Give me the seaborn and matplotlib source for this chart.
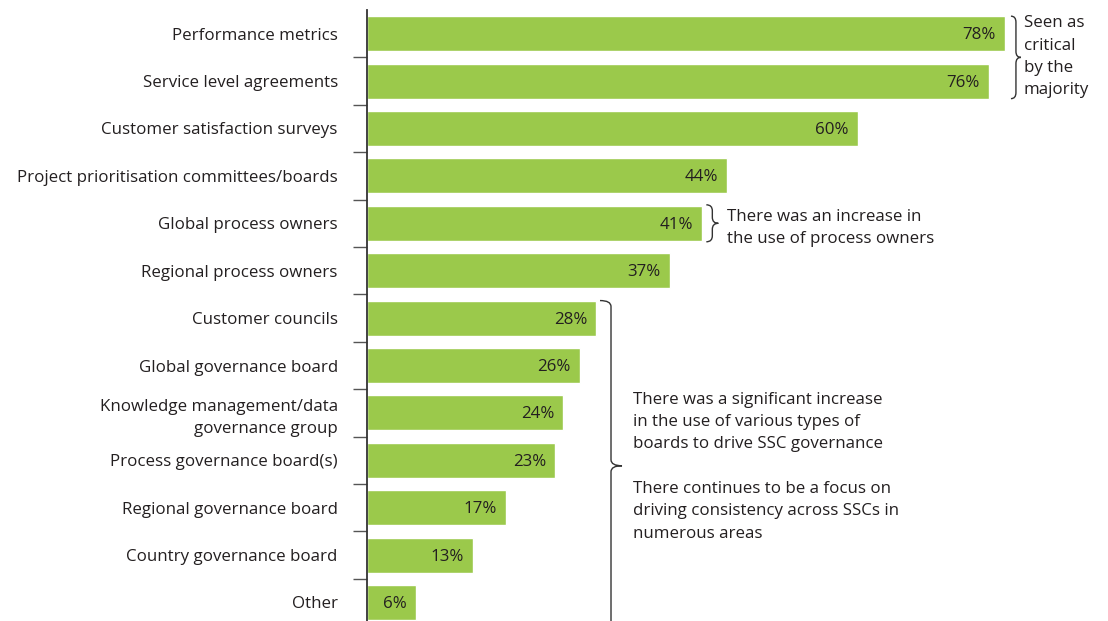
import matplotlib
matplotlib.use("Agg")
import matplotlib.pyplot as plt
from matplotlib.path import Path
from matplotlib.patches import PathPatch
import seaborn as sns
import pandas as pd

# Data
categories = [
    "Performance metrics",
    "Service level agreements",
    "Customer satisfaction surveys",
    "Project prioritisation committees/boards",
    "Global process owners",
    "Regional process owners",
    "Customer councils",
    "Global governance board",
    "Knowledge management/data\ngovernance group",
    "Process governance board(s)",
    "Regional governance board",
    "Country governance board",
    "Other",
]
values = [78, 76, 60, 44, 41, 37, 28, 26, 24, 23, 17, 13, 6]

note_majority = "Seen as\ncritical\nby the\nmajority"
note_owners = "There was an increase in\nthe use of process owners"
note_boards = ("There was a significant increase\n"
               "in the use of various types of\n"
               "boards to drive SSC governance\n\n"
               "There continues to be a focus on\n"
               "driving consistency across SSCs in\n"
               "numerous areas")

GREEN = "#9BC94B"
TEXT = "#231F20"
FONT = "Open Sans"
FS = 12.2
LS = 1.53

sns.set_style("white")
plt.rcParams["font.family"] = [FONT, "DejaVu Sans"]

df = pd.DataFrame({"category": categories, "value": values})

fig = plt.figure(figsize=(11.08, 6.21), dpi=100)
W, H = 1108, 621
# axis spine at x=367px, top of axis at y=10px, category pitch ~47.4px
xmax = 90.6
ax = fig.add_axes([367 / W, 1 - (10 + 13 * 47.4) / H, 1 - 367 / W, 13 * 47.4 / H])

sns.barplot(data=df, x="value", y="category", orient="h", color=GREEN,
            saturation=1, width=0.74, ax=ax)

ax.set_xlim(0, xmax)
ax.set_ylim(len(categories) - 0.5, -0.5)
ax.set_xlabel("")
ax.set_ylabel("")
ax.set_xticks([])

for s in ["top", "right", "bottom"]:
    ax.spines[s].set_visible(False)
ax.spines["left"].set_color("#333333")
ax.spines["left"].set_linewidth(1.3)
ax.spines["left"].set_clip_on(False)

ax.set_yticks(range(len(categories)))
ax.set_yticklabels(categories, fontsize=FS, color=TEXT)
for lab in ax.get_yticklabels():
    lab.set_linespacing(LS)
ax.tick_params(axis="y", which="major", left=True, length=0, pad=21)
ax.set_yticks([i + 0.5 for i in range(len(categories) - 1)], minor=True)
ax.tick_params(axis="y", which="minor", left=True, length=10, width=1,
               color="#555555")

px_x = (W - 367) / xmax   # pixels per percent
px_y = 47.4               # pixels per category

for i, v in enumerate(values):
    ax.text(v - 9 / px_x, i + 0.03, f"{v}%", ha="right", va="center",
            fontsize=FS, color=TEXT)


def brace(x, y0, y1, w):
    # curly brace opening to the left, pointing right; x/w in data, y in categories
    ym = (y0 + y1) / 2
    r = 6 / px_y
    verts = [(x, y0), (x + w / 2, y0), (x + w / 2, y0 + r),
             (x + w / 2, ym - r),
             (x + w / 2, ym), (x + w, ym),
             (x + w / 2, ym), (x + w / 2, ym + r),
             (x + w / 2, y1 - r),
             (x + w / 2, y1), (x, y1)]
    codes = [Path.MOVETO, Path.CURVE3, Path.CURVE3,
             Path.LINETO,
             Path.CURVE3, Path.CURVE3,
             Path.CURVE3, Path.CURVE3,
             Path.LINETO,
             Path.CURVE3, Path.CURVE3]
    ax.add_patch(PathPatch(Path(verts, codes), fill=False, lw=1.0,
                           edgecolor="#333333", clip_on=False))


# braces and notes
brace(values[0] + 6 / px_x, -0.37, 1.37, 10 / px_x)
ax.text(values[0] + 19 / px_x, -0.39, note_majority, ha="left", va="top",
        fontsize=FS, color=TEXT, linespacing=LS, clip_on=False)

brace(values[4] + 4 / px_x, 4 - 0.39, 4 + 0.39, 12 / px_x)
ax.text(values[4] + 25 / px_x, 4.1, note_owners, ha="left", va="center",
        fontsize=FS, color=TEXT, linespacing=LS)

brace(values[6] + 4 / px_x, 6 - 0.37, 12.6, 22 / px_x)
ax.text(values[6] + 37 / px_x, 7.55, note_boards, ha="left", va="top",
        fontsize=FS, color=TEXT, linespacing=LS)

fig.savefig("out.png", dpi=100)
